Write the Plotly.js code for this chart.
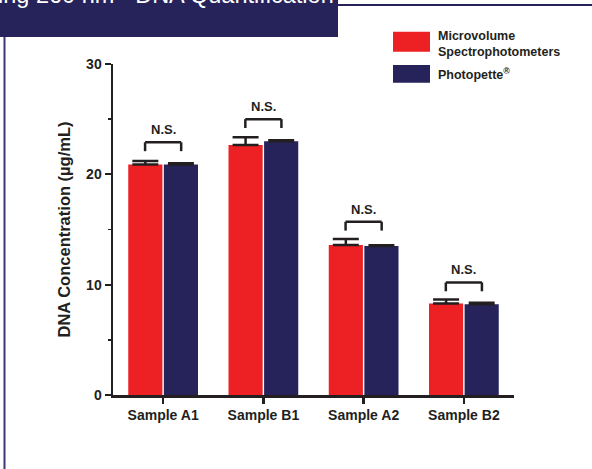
<!DOCTYPE html>
<html>
<head>
<meta charset="utf-8">
<script src="https://cdn.plot.ly/plotly-3.0.1.min.js"></script>
<style>html,body{margin:0;padding:0;background:#fff;}#chart{width:592px;height:469px;}</style>
</head>
<body>
<div id="chart"></div>
<script>
// ---- data ----
const categories = ["Sample A1", "Sample B1", "Sample A2", "Sample B2"];
const seriesNames = ["Microvolume<br>Spectrophotometers", "Photopette<sup>®</sup>"];
const microvolume = [20.9, 22.65, 13.6, 8.3];
const microvolumeErr = [0.3, 0.7, 0.55, 0.35];
const photopette = [20.9, 23.0, 13.5, 8.22];
const photopetteErr = [0.1, 0.1, 0.07, 0.15];
const nsLevel = [22.9, 25.0, 15.7, 10.2];
const nsLabel = ["N.S.", "N.S.", "N.S.", "N.S."];
const yTickVals = [0, 10, 20, 30];
const headerText = "ing 260 nm - DNA Quantification";

// ---- styling ----
const RED = "#ED2024", NAVY = "#26235B", INK = "#231F20";
const FONT = "Liberation Sans, Arial, sans-serif";
const W = 592, H = 469, ML = 113, MR = 78, MT = 64, MB = 74;
const PW = W - ML - MR, PH = H - MT - MB;
const xp = px => (px - ML) / PW;
const yp = py => (H - MB - py) / PH;

const errStyle = {type: "data", symmetric: false, thickness: 2.5, width: 13, color: INK};

const traces = [
  {type: "bar", name: seriesNames[0], x: categories, y: microvolume, marker: {color: RED},
   error_y: Object.assign({array: microvolumeErr, arrayminus: microvolumeErr.map(() => 0)}, errStyle),
   showlegend: false},
  {type: "bar", name: seriesNames[1], x: categories, y: photopette, marker: {color: NAVY},
   error_y: Object.assign({array: photopetteErr, arrayminus: photopetteErr.map(() => 0)}, errStyle),
   showlegend: false}
];

const shapes = [];
const annotations = [];
const half = 0.18, leg = 0.8;
nsLevel.forEach((lv, i) => {
  const ln = {color: INK, width: 2.5};
  shapes.push({type: "line", xref: "x", yref: "y", x0: i - half, x1: i + half, y0: lv, y1: lv, line: ln});
  shapes.push({type: "line", xref: "x", yref: "y", x0: i - half, x1: i - half, y0: lv, y1: lv - leg, line: ln});
  shapes.push({type: "line", xref: "x", yref: "y", x0: i + half, x1: i + half, y0: lv, y1: lv - leg, line: ln});
  annotations.push({xref: "x", yref: "y", x: i, y: lv + 1.15, text: "<b>" + nsLabel[i] + "</b>",
    showarrow: false, font: {family: FONT, size: 13, color: INK}});
});

// header band and frame lines
shapes.push({type: "rect", xref: "paper", yref: "paper", x0: xp(-2), x1: xp(338), y0: yp(37), y1: yp(-2),
  fillcolor: NAVY, line: {width: 0}, layer: "above"});
shapes.push({type: "line", xref: "paper", yref: "paper", x0: xp(338), x1: xp(594), y0: yp(5), y1: yp(5),
  line: {color: NAVY, width: 2}});
shapes.push({type: "line", xref: "paper", yref: "paper", x0: xp(4.5), x1: xp(4.5), y0: yp(37), y1: yp(471),
  line: {color: "#3B3A6E", width: 2}});
annotations.push({xref: "paper", yref: "paper", x: xp(336), y: yp(10), xanchor: "right", yanchor: "bottom",
  text: headerText, showarrow: false, font: {family: FONT, size: 23.5, color: "#FFFFFF"}});

// manual legend
shapes.push({type: "rect", xref: "paper", yref: "paper", x0: xp(393), x1: xp(430), y0: yp(51.7), y1: yp(31.7),
  fillcolor: RED, line: {width: 0}});
shapes.push({type: "rect", xref: "paper", yref: "paper", x0: xp(393), x1: xp(430), y0: yp(82.7), y1: yp(65),
  fillcolor: NAVY, line: {width: 0}});
annotations.push({xref: "paper", yref: "paper", x: xp(436), y: yp(44), xanchor: "left", yanchor: "middle",
  align: "left", text: "<b>" + seriesNames[0] + "</b>", showarrow: false,
  font: {family: FONT, size: 12.5, color: INK}});
annotations.push({xref: "paper", yref: "paper", x: xp(436), y: yp(73.5), xanchor: "left", yanchor: "middle",
  align: "left", text: "<b>" + seriesNames[1] + "</b>", showarrow: false,
  font: {family: FONT, size: 12.5, color: INK}});

const layout = {
  width: W, height: H,
  margin: {l: ML, r: MR, t: MT, b: MB, pad: 0},
  paper_bgcolor: "#FFFFFF", plot_bgcolor: "#FFFFFF",
  font: {family: FONT, color: INK},
  barmode: "group", bargap: 0.29, bargroupgap: 0.04,
  showlegend: false,
  xaxis: {
    type: "category", range: [-0.5, 3.5], showline: true, linecolor: INK, linewidth: 2.5,
    ticks: "outside", ticklen: 6, tickwidth: 2.5, tickcolor: INK,
    showgrid: false, zeroline: false,
    tickfont: {family: FONT, size: 14, color: INK, weight: "bold"}
  },
  yaxis: {
    range: [0, 30], tickvals: yTickVals, showline: true, linecolor: INK, linewidth: 2.5,
    ticks: "outside", ticklen: 6, tickwidth: 2, tickcolor: INK,
    minor: {dtick: 5, ticks: "outside", ticklen: 3, tickwidth: 1.5, tickcolor: INK},
    showgrid: false, zeroline: false,
    tickfont: {family: FONT, size: 14, color: INK, weight: "bold"},
    title: {text: "<b>DNA Concentration (µg/mL)</b>", font: {family: FONT, size: 16.5, color: INK}, standoff: 12}
  },
  shapes: shapes,
  annotations: annotations
};

Plotly.newPlot("chart", traces, layout, {displayModeBar: false, staticPlot: true});
</script>
</body>
</html>
